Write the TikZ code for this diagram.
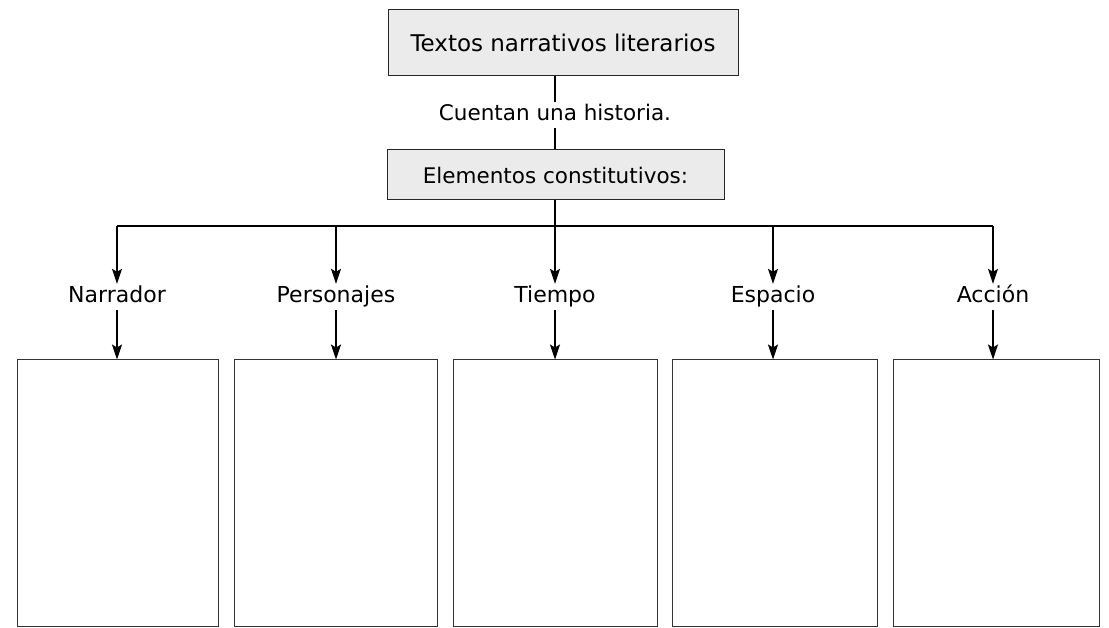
\documentclass[tikz,border=0pt]{standalone}
\usepackage{fontspec}
\setmainfont{DejaVu Sans}
\usetikzlibrary{arrows.meta}
\begin{document}
\begin{tikzpicture}[x=1pt,y=-1pt,
  hdrbox/.style={draw=black!85,line width=1pt,fill=black!8,inner sep=0pt},
  lbl/.style={inner sep=3pt,text height=16pt,text depth=4pt,font=\fontsize{22}{24}\selectfont},
  ansbox/.style={draw=black!80,line width=1pt,inner sep=0pt,minimum height=266pt},
  conn/.style={line width=1.3pt,black},
  arr/.style={conn,-{Stealth[length=15pt,width=10pt,inset=3pt]}}]
\useasboundingbox (0,0) rectangle (1109,628);
\fill[white] (0,0) rectangle (1109,628);
% header boxes
\node[hdrbox,minimum width=350pt,minimum height=66pt,font=\fontsize{23}{26}\selectfont] (t) at (563,43) {Textos narrativos literarios};
\node[lbl,font=\fontsize{21.5}{24}\selectfont] (c) at (555,115) {Cuentan una historia.};
\node[hdrbox,minimum width=337pt,minimum height=50pt,font=\fontsize{21.5}{24}\selectfont] (e) at (555.5,175) {Elementos constitutivos:};
\draw[conn] (t.south -| c.north) -- (c.north);
\draw[conn] (c.south) -- (e.north -| c.south);
% bar
\coordinate (bar) at (555,226);
\coordinate (bl) at (117,226);
\coordinate (br) at (993,226);
\draw[conn] (e.south -| bar) -- (bar);
\draw[conn] (bl) -- (br);
% labels
\node[lbl] (n1) at (117,297) {Narrador};
\node[lbl] (n2) at (336,297) {Personajes};
\node[lbl] (n3) at (555,297) {Tiempo};
\node[lbl] (n4) at (773,297) {Espacio};
\node[lbl] (n5) at (993,297) {Acción};
% answer boxes
\node[ansbox,minimum width=201pt] (b1) at (117.5,493) {};
\node[ansbox,minimum width=203pt] (b2) at (335.5,493) {};
\node[ansbox,minimum width=204pt] (b3) at (555,493) {};
\node[ansbox,minimum width=205pt] (b4) at (775,493) {};
\node[ansbox,minimum width=206pt] (b5) at (996,493) {};
% arrows
\foreach \i in {1,...,5}{
  \draw[arr] (bl -| n\i.north) -- (n\i.north);
  \draw[arr] (n\i.south) -- (n\i.south |- b\i.north);
}
\end{tikzpicture}
\end{document}
